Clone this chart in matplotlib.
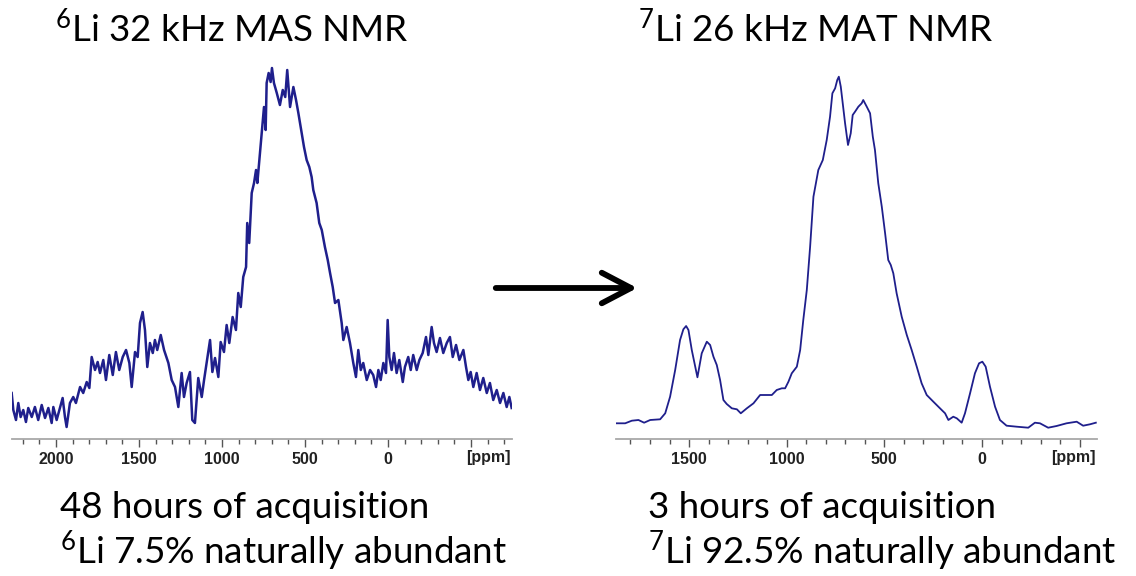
import matplotlib
matplotlib.use("Agg")
import matplotlib.pyplot as plt
from matplotlib.ticker import MultipleLocator, FixedLocator
from matplotlib.patches import FancyArrowPatch

# ---- data ----
li6_ppm = [2267, 2257, 2241, 2227, 2213, 2197, 2181, 2167, 2146, 2127, 2107, 2086, 2066, 2046, 2026, 2016,
           1996, 1976, 1960, 1946, 1936, 1916, 1896, 1880, 1855, 1836, 1815, 1799, 1785, 1765, 1749, 1735,
           1715, 1699, 1679, 1658, 1639, 1619, 1598, 1578, 1558, 1544, 1524, 1508, 1494, 1478, 1464, 1450,
           1434, 1417, 1404, 1390, 1369, 1349, 1323, 1303, 1283, 1263, 1243, 1229, 1213, 1193, 1179, 1163,
           1143, 1122, 1108, 1092, 1072, 1058, 1042, 1022, 1008, 988, 972, 956, 936, 916, 902, 887,
           872, 855, 848, 836, 821, 807, 795, 787, 775, 761, 747, 737, 731, 719, 707, 699,
           687, 670, 651, 634, 619, 607, 590, 570, 554, 540, 520, 506, 490, 474, 460, 450,
           430, 414, 399, 380, 363, 349, 333, 319, 299, 279, 269, 249, 229, 209, 193, 179,
           164, 149, 128, 108, 89, 72, 58, 44, 28, 12, 2, -8, -22, -36, -52, -68,
           -89, -102, -122, -137, -152, -173, -189, -209, -229, -243, -263, -277, -293, -313, -333, -354,
           -373, -390, -410, -430, -454, -470, -484, -498, -514, -534, -554, -574, -595, -614, -634, -655,
           -675, -695, -715, -731, -745]
li6_int = [46, 29, 19, 36, 22, 29, 17, 31, 22, 32, 19, 34, 21, 31, 16, 32,
           19, 31, 41, 22, 12, 36, 42, 36, 52, 46, 57, 51, 82, 69, 77, 66,
           79, 59, 84, 64, 87, 69, 82, 89, 76, 52, 87, 82, 116, 127, 109, 72,
           96, 86, 99, 89, 104, 89, 76, 59, 52, 32, 66, 42, 56, 67, 19, 16,
           61, 42, 59, 77, 99, 67, 81, 62, 97, 87, 114, 96, 122, 109, 146, 132,
           162, 172, 216, 196, 246, 256, 269, 256, 279, 306, 332, 309, 356, 366, 357, 371,
           356, 346, 334, 349, 342, 369, 332, 352, 339, 326, 306, 292, 279, 272, 262, 249,
           236, 216, 209, 192, 179, 166, 152, 136, 139, 116, 99, 112, 96, 76, 62, 89,
           69, 76, 59, 69, 64, 52, 69, 59, 76, 66, 119, 82, 69, 86, 66, 79,
           57, 72, 82, 69, 84, 69, 79, 86, 102, 84, 112, 96, 87, 101, 86, 96,
           102, 82, 94, 79, 89, 72, 59, 67, 52, 66, 49, 61, 46, 56, 39, 49,
           36, 46, 32, 42, 31]

li7_ppm = [1873, 1827, 1793, 1759, 1730, 1699, 1648, 1622, 1597, 1571, 1546, 1529, 1515, 1503, 1486, 1457,
           1435, 1409, 1392, 1375, 1358, 1341, 1324, 1307, 1281, 1255, 1235, 1204, 1170, 1136, 1102, 1076,
           1051, 1025, 1008, 991, 974, 948, 931, 915, 897, 880, 863, 838, 815, 795, 778, 766,
           752, 741, 733, 723, 713, 701, 686, 672, 662, 650, 633, 616, 608, 590, 573, 559,
           548, 531, 513, 496, 480, 467, 454, 437, 411, 385, 360, 334, 309, 283, 249, 215,
           189, 172, 147, 129, 104, 87, 61, 36, 15, -2, -19, -41, -67, -92, -126, -178,
           -237, -271, -297, -339, -382, -433, -485, -518, -553, -583]
li7_int = [15.7, 15.7, 18.3, 19, 16.3, 19, 19.7, 25.7, 42.3, 69, 99, 109.7, 113, 109, 89, 61.7,
           85.7, 97.3, 94, 82.3, 74, 59, 39, 35, 30.7, 29.7, 25.7, 30.7, 35.7, 44, 44, 44,
           49, 50.7, 50.7, 57.3, 65.7, 72.3, 89, 119, 149, 192.3, 242.3, 269, 279, 299, 322.3, 345.7,
           350.7, 359, 362.3, 352.3, 335.7, 315.7, 294, 305.7, 324, 327.3, 332.3, 335.7, 339, 332.3, 325.7, 302.3,
           289, 255.7, 232.3, 205.7, 179, 174, 165.7, 145.7, 122.3, 104, 89, 72.3, 55.7, 44, 37.3, 30.7,
           25.7, 19, 22.3, 20.7, 16.3, 25.7, 45.7, 65.7, 75.7, 77.3, 72.3, 52.3, 32.3, 19, 13.3, 12.3,
           11.3, 16.3, 15.7, 11.3, 13, 15.7, 17.3, 13.3, 14.7, 16.3]

left_ticks = [2000, 1500, 1000, 500, 0]
right_ticks = [1500, 1000, 500, 0]
left_title = r"$\mathregular{^6}$Li 32 kHz MAS NMR"
right_title = r"$\mathregular{^7}$Li 26 kHz MAT NMR"
left_notes = ["48 hours of acquisition", r"$\mathregular{^6}$Li 7.5% naturally abundant"]
right_notes = ["3 hours of acquisition", r"$\mathregular{^7}$Li 92.5% naturally abundant"]

# ---- style ----
plt.rcParams['font.family'] = ['Lato', 'DejaVu Sans']
plt.rcParams['mathtext.fontset'] = 'custom'
plt.rcParams['mathtext.rm'] = 'Lato'

W, H = 1136, 576
fig = plt.figure(figsize=(W / 100, H / 100), dpi=100)
fig.patch.set_facecolor('white')

line_color = '#1f1f8c'


def make_axes(left_px, right_px, xlim, ticks):
    bottom_px = 439
    top_px = 59
    ax = fig.add_axes([left_px / W, (H - bottom_px) / H, (right_px - left_px) / W, (bottom_px - top_px) / H])
    ax.set_xlim(*xlim)
    ax.set_ylim(0, bottom_px - top_px)
    for s in ['top', 'right', 'left']:
        ax.spines[s].set_visible(False)
    ax.spines['bottom'].set_color('#a8a8a8')
    ax.spines['bottom'].set_linewidth(1.3)
    ax.set_yticks([])
    ax.xaxis.set_major_locator(FixedLocator(ticks + [-500]))
    ax.xaxis.set_minor_locator(MultipleLocator(100))
    ax.set_xticklabels([str(t) for t in ticks] + [''])
    ax.tick_params(axis='x', which='major', length=6, width=1.0, color='#555555', pad=3,
                   labelsize=11.5, direction='out')
    ax.tick_params(axis='x', which='minor', length=3.5, width=1.0, color='#555555', direction='out')
    for lab in ax.get_xticklabels():
        lab.set_fontfamily('Liberation Sans')
        lab.set_fontweight('bold')
        lab.set_color('#222222')
    ax.annotate('[ppm]', xy=(0.997, 0), xycoords='axes fraction', xytext=(0, -13.0),
                textcoords='offset points', ha='right', va='center', fontsize=11.5,
                fontweight='bold', family='Liberation Sans', color='#222222')
    ax.patch.set_alpha(0)
    return ax


ax1 = make_axes(12, 512, (2265, -747), left_ticks)
ax1.plot(li6_ppm, li6_int, color=line_color, lw=1.8, solid_joinstyle='round')

ax2 = make_axes(616, 1097, (1874, -589), right_ticks)
ax2.plot(li7_ppm, li7_int, color=line_color, lw=1.3, solid_joinstyle='round')

# titles
fig.text(55 / W, 1 - 29 / H, left_title, fontsize=26.5, ha='left', va='center')
fig.text(638 / W, 1 - 29 / H, right_title, fontsize=26.5, ha='left', va='center')

# notes
fig.text(60 / W, 1 - 507 / H, left_notes[0], fontsize=26.5, ha='left', va='center')
fig.text(60 / W, 1 - 551 / H, left_notes[1], fontsize=26.5, ha='left', va='center')
fig.text(648 / W, 1 - 507 / H, right_notes[0], fontsize=26.5, ha='left', va='center')
fig.text(648 / W, 1 - 551 / H, right_notes[1], fontsize=26.5, ha='left', va='center')

# arrow
arr = FancyArrowPatch((493 / W, 1 - 288 / H), (640 / W, 1 - 288 / H), transform=fig.transFigure,
                      arrowstyle='->,head_length=1.05,head_width=0.55', mutation_scale=20,
                      lw=4.2, color='black', capstyle='round', joinstyle='round')
fig.patches.append(arr)

fig.savefig('out.png', dpi=100, facecolor='white')
